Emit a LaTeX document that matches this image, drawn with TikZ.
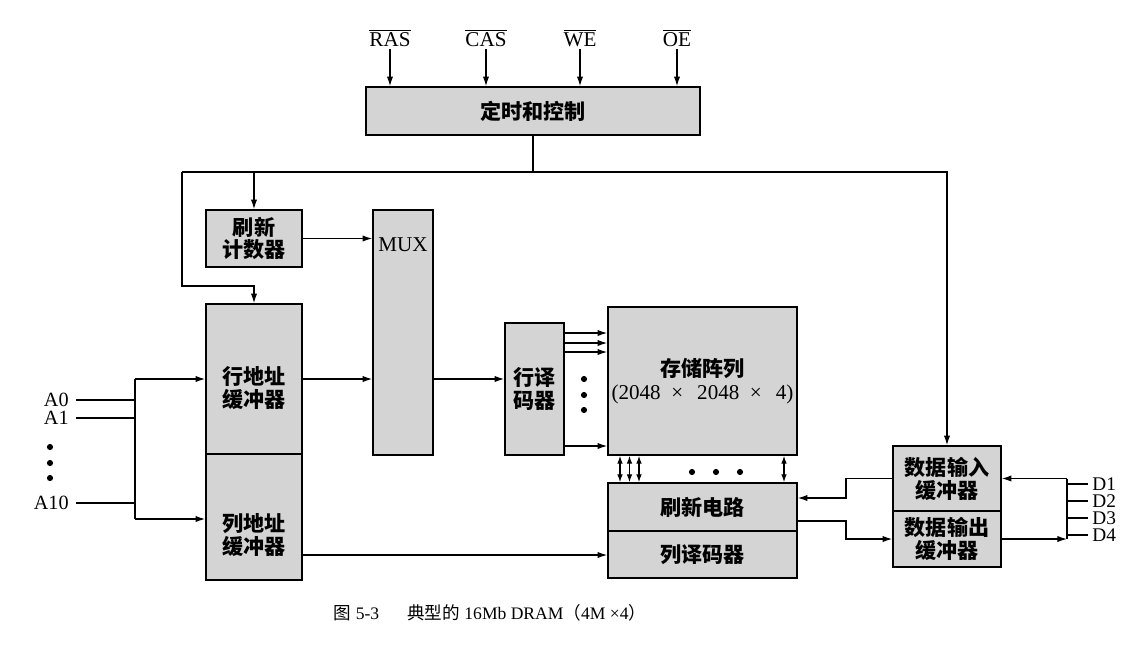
\documentclass[tikz,border=0pt]{standalone}
\usepackage{fontspec}
\setmainfont{Liberation Serif}
\newfontfamily\cjk{Noto Sans CJK SC}
\usetikzlibrary{arrows.meta,calc}
\begin{document}
\begin{tikzpicture}[x=0.02cm,y=-0.02cm,
  blk/.style={draw, line width=0.9pt, fill=black!17, inner sep=0pt, align=center,
    font=\cjk\bfseries\fontsize{12}{13}\selectfont},
  blktext/.style={inner sep=0pt, align=center, font=\cjk\bfseries\fontsize{12}{13}\selectfont},
  wire/.style={line width=0.7pt},
  arw/.style={wire, -{Latex[length=5.5pt,width=3.6pt]}},
  darw/.style={wire, {Latex[length=4.5pt,width=3.2pt]}-{Latex[length=4.5pt,width=3.2pt]}},
  lbl/.style={font=\fontsize{12}{13}\selectfont, inner sep=1pt},
  albl/.style={font=\fontsize{11.5}{12}\selectfont, inner sep=0pt, anchor=east},
  dlbl/.style={font=\fontsize{11}{12}\selectfont, inner sep=0pt, anchor=west},
  bdot/.style={fill, circle, inner sep=0pt, minimum size=3.5pt}
]
\useasboundingbox (0,0) rectangle (1147,647);

% blocks
\node[blk, minimum width=6.68cm, minimum height=0.96cm] (ctrl) at (533,111) {定时和控制};
\node[blk, minimum width=1.92cm, minimum height=1.14cm] (rc) at (254,238.5) {刷新\\计数器};
\node[blk, minimum width=1.2cm, minimum height=4.9cm] (mux) at (403,332.5) {};
\node[font=\fontsize{12}{13}\selectfont, inner sep=0pt] (muxt) at (403,245) {MUX};
\node[blk, minimum width=1.92cm, minimum height=3.0cm] (rab) at (254,379) {};
\node[blktext] (rabt) at (254,388) {行地址\\缓冲器};
\node[blk, minimum width=1.92cm, minimum height=2.52cm] (cab) at (254,517) {};
\node[blktext] (cabt) at (254,535) {列地址\\缓冲器};
\node[blk, minimum width=1.18cm, minimum height=2.64cm] (rdec) at (534.5,389) {行译\\码器};
\node[blk, minimum width=3.78cm, minimum height=2.96cm] (arr) at (702.5,381)
  {存储阵列\\{\rmfamily\mdseries (2048 \ ×\ \, 2048 \ ×\ \, 4)}};
\node[blk, minimum width=3.78cm, minimum height=0.96cm] (rfc) at (702.5,507) {刷新电路};
\node[blk, minimum width=3.78cm, minimum height=0.94cm] (cdec) at (702.5,554.5) {列译码器};
\node[blk, minimum width=2.16cm, minimum height=1.3cm] (din) at (947,478.5) {数据输入\\缓冲器};
\node[blk, minimum width=2.16cm, minimum height=1.12cm] (dout) at (947,539) {数据输出\\缓冲器};

% control inputs
\node[lbl] (ras) at (390,38) {$\overline{\hbox{RAS}}$};
\node[lbl] (cas) at (486,38) {$\overline{\hbox{CAS}}$};
\node[lbl] (we)  at (580,38) {$\overline{\hbox{WE}}$};
\node[lbl] (oe)  at (677,38) {$\overline{\hbox{OE}}$};
\foreach \s in {ras,cas,we,oe} \draw[arw] (\s.south) -- (\s.south |- ctrl.north);

% control bus
\coordinate (busL) at (182,172);
\coordinate (lk) at (182,286);
\draw[wire] (ctrl.south) -- (ctrl.south |- busL);
\draw[arw] (busL) -- (busL -| din.north) -- (din.north);
\draw[arw] (busL -| rc.north) -- (rc.north);
\draw[arw] (busL) |- (rab.north |- lk) -- (rab.north);

% address inputs
\node[albl] (a0) at (69,400) {A0};
\node[albl] (a1) at (69,418) {A1};
\node[albl] (a10) at (69,503) {A10};
\foreach \y in {447,463,478} \node[bdot] at (50,\y) {};
\coordinate (abT) at (135,379);
\coordinate (abB) at (135,519);
\draw[wire] (abT) -- (abB);
\foreach \a in {a0,a1,a10} \draw[wire] ([xshift=4pt]\a.east) -- (\a.east -| abT);
\draw[arw] (abT) -- (abT -| rab.west);
\draw[arw] (abB) -- (abB -| cab.west);

% datapath
\draw[arw] (rc.east) -- (rc.east -| mux.west);
\draw[arw] (rab.east) -- (rab.east -| mux.west);
\draw[arw] (mux.east |- rab.east) -- (rdec.west |- rab.east);
\foreach \y in {333,343,352,446} \draw[arw] (rdec.east |- 0,\y) -- (arr.west |- 0,\y);
\foreach \y in {379,395,410} \node[bdot] at (584,\y) {};
\foreach \x in {620,629.5,639,784} \draw[darw] (arr.south -| \x,0) -- (rfc.north -| \x,0);
\foreach \x in {692,716,740} \node[bdot] at (\x,472) {};
\draw[arw] (cab.east |- 0,555) -- (cdec.west |- 0,555);

% data buffers
\draw[arw] (din.west) -| (846,498) -- (rfc.east |- 0,498);
\draw[arw] (rfc.east |- 0,521) -| (846,539) -- (dout.west);
\coordinate (dbT) at (1067,478.5);
\coordinate (dbB) at (1067,539);
\draw[wire] (dbT) -- (dbB);
\draw[arw] (dbT) -- (din.east);
\draw[arw] (dout.east) -- (dbB);
\node[dlbl] (d1) at (1092,484) {D1};
\node[dlbl] (d2) at (1092,501) {D2};
\node[dlbl] (d3) at (1092,518) {D3};
\node[dlbl] (d4) at (1092,535) {D4};
\foreach \d in {d1,d2,d3,d4} \draw[wire] (\d.west -| dbT) -- ([xshift=-2pt]\d.west);

% caption
\node[font=\fontsize{10}{12}\selectfont, inner sep=0pt] (cap) at (490,613)
  {{\cjk 图} 5-3\hspace{1.6em}{\cjk 典型的} 16Mb DRAM{\cjk （}4M ×4{\cjk ）}};
\end{tikzpicture}
\end{document}
